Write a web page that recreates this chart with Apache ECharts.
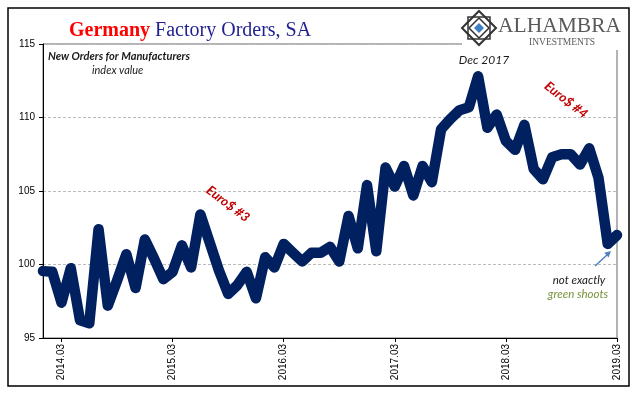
<!DOCTYPE html>
<html>
<head>
<meta charset="utf-8">
<script src="https://cdn.jsdelivr.net/npm/echarts@6/dist/echarts.min.js"></script>
<style>
  html, body { margin: 0; padding: 0; background: #fff; }
  #chart { width: 640px; height: 399px; }
</style>
</head>
<body>
<div id="chart"></div>
<script>
var myChart = echarts.init(document.getElementById('chart'));

// months 2014.01 .. 2019.03
var months = [];
for (var y = 2014; y <= 2019; y++) {
    for (var m = 1; m <= 12; m++) {
        if (y === 2019 && m > 3) break;
        months.push(y + '.' + (m < 10 ? '0' + m : m));
    }
}

var orders2014 = [99.55, 99.5, 97.4, 99.75, 96.2, 96.0, 102.4, 97.2, 98.9, 100.7, 98.4, 101.7];
var orders2015 = [100.4, 99.0, 99.5, 101.3, 99.8, 103.4, 101.5, 99.6, 98.0, 98.6, 99.5, 97.7];
var orders2016 = [100.5, 99.8, 101.4, 100.8, 100.2, 100.8, 100.8, 101.2, 100.2, 103.3, 101.1, 105.4];
var orders2017 = [100.9, 106.6, 105.3, 106.7, 104.7, 106.7, 105.6, 109.2, 109.9, 110.5, 110.7, 112.8];
var orders2018 = [109.3, 110.2, 108.4, 107.8, 109.5, 106.5, 105.8, 107.3, 107.5, 107.5, 106.8, 107.9];
var orders2019 = [105.9, 101.4, 102.0];

var orders = [].concat(orders2014, orders2015, orders2016, orders2017, orders2018, orders2019);

var yTicks = { min: 95, max: 115, interval: 5 };

function everyMarch(index) {
    return index % 12 === 2;
}

var option = {
    backgroundColor: '#fff',
    animation: false,
    title: {
        left: 64,
        top: 16,
        text: '{a|Germany} {b|Factory Orders, SA}',
        textStyle: {
            rich: {
                a: { fontFamily: 'Liberation Serif', fontWeight: 'bold', fontSize: 20, color: '#ff0000' },
                b: { fontFamily: 'Liberation Serif', fontWeight: 'normal', fontSize: 20, color: '#1f1f8f' }
            }
        }
    },
    grid: {
        left: 43,
        right: 23,
        top: 44,
        bottom: 61,
        show: true,
        borderColor: '#666',
        borderWidth: 1
    },
    xAxis: {
        type: 'category',
        data: months,
        boundaryGap: false,
        axisLine: { lineStyle: { color: '#000', width: 1 } },
        axisTick: { interval: everyMarch, length: 4, lineStyle: { color: '#000' } },
        axisLabel: {
            interval: everyMarch,
            rotate: 90,
            margin: 6,
            fontSize: 10,
            fontFamily: 'Liberation Sans',
            color: '#000'
        },
        splitLine: { show: false }
    },
    yAxis: {
        type: 'value',
        min: yTicks.min,
        max: yTicks.max,
        interval: yTicks.interval,
        axisLine: { show: true, lineStyle: { color: '#000', width: 1 } },
        axisTick: { show: true, length: 4, lineStyle: { color: '#000' } },
        axisLabel: { fontSize: 10, fontFamily: 'Liberation Sans', color: '#000', margin: 8 },
        splitLine: { lineStyle: { color: '#bbb', type: [3, 2], width: 1 } }
    },
    series: [{
        type: 'line',
        data: orders,
        showSymbol: false,
        lineStyle: { color: '#002060', width: 10.5, cap: 'round', join: 'round' },
        z: 3
    }],
    graphic: [
        // outer frame
        { type: 'rect', shape: { x: 8, y: 8, width: 621, height: 378 }, style: { fill: null, stroke: '#000', lineWidth: 1.5 }, z: 1 },
        // logo backdrop
        { type: 'rect', shape: { x: 462, y: 10, width: 166, height: 40 }, style: { fill: '#fff' }, z: 10 },
        { type: 'polygon', shape: { points: [[479, 11], [496, 28], [479, 45], [462, 28]] }, style: { fill: null, stroke: '#333', lineWidth: 2 }, z: 11 },
        { type: 'rect', shape: { x: 468, y: 17, width: 22, height: 22 }, style: { fill: null, stroke: '#333', lineWidth: 1.5 }, z: 11 },
        { type: 'polygon', shape: { points: [[479, 18], [489, 28], [479, 38], [469, 28]] }, style: { fill: null, stroke: '#333', lineWidth: 1.5 }, z: 11 },
        { type: 'polygon', shape: { points: [[479, 23], [484, 28], [479, 33], [474, 28]] }, style: { fill: '#3f7fc4' }, z: 12 },
        { type: 'text', x: 498, y: 15, style: { text: 'ALHAMBRA', fontFamily: 'Liberation Serif', fontSize: 21.5, fill: '#595959' }, z: 11 },
        { type: 'text', x: 562, y: 37, style: { text: 'INVESTMENTS', fontFamily: 'Liberation Serif', fontSize: 9.5, fill: '#595959', align: 'center' }, z: 11 },
        // notes
        { type: 'text', x: 48, y: 51, style: { text: 'New Orders for Manufacturers', fontFamily: 'Lato', fontStyle: 'italic', fontWeight: 'bold', fontSize: 11, fill: '#1a1a1a' }, z: 11 },
        { type: 'text', x: 92, y: 65, style: { text: 'index value', fontFamily: 'Lato', fontStyle: 'italic', fontSize: 11, fill: '#1a1a1a' }, z: 11 },
        { type: 'text', x: 484, y: 60, style: { text: 'Dec 2017', fontFamily: 'Lato', fontStyle: 'italic', fontSize: 12, fill: '#1a1a1a', align: 'center', verticalAlign: 'middle' }, z: 11 },
        { type: 'text', x: 228, y: 204, rotation: -0.65, style: { text: 'Euro$ #3', fontFamily: 'Lato', fontStyle: 'italic', fontWeight: 'bold', fontSize: 13, fill: '#c00000', align: 'center', verticalAlign: 'middle' }, z: 11 },
        { type: 'text', x: 566, y: 100, rotation: -0.66, style: { text: 'Euro$ #4', fontFamily: 'Lato', fontStyle: 'italic', fontWeight: 'bold', fontSize: 13, fill: '#c00000', align: 'center', verticalAlign: 'middle' }, z: 11 },
        { type: 'text', x: 579, y: 280, style: { text: 'not exactly', fontFamily: 'Lato', fontStyle: 'italic', fontSize: 11.5, fill: '#1a1a1a', align: 'center', verticalAlign: 'middle' }, z: 11 },
        { type: 'text', x: 578, y: 294, style: { text: 'green shoots', fontFamily: 'Lato', fontStyle: 'italic', fontSize: 11.5, fill: '#77933c', align: 'center', verticalAlign: 'middle' }, z: 11 },
        { type: 'line', shape: { x1: 595, y1: 266, x2: 607, y2: 255 }, style: { stroke: '#4f81bd', lineWidth: 1.5 }, z: 11 },
        { type: 'polygon', shape: { points: [[611, 251], [608.6, 257.6], [604.3, 252.8]] }, style: { fill: '#4f81bd' }, z: 11 }
    ]
};
myChart.setOption(option);
</script>
</body>
</html>
